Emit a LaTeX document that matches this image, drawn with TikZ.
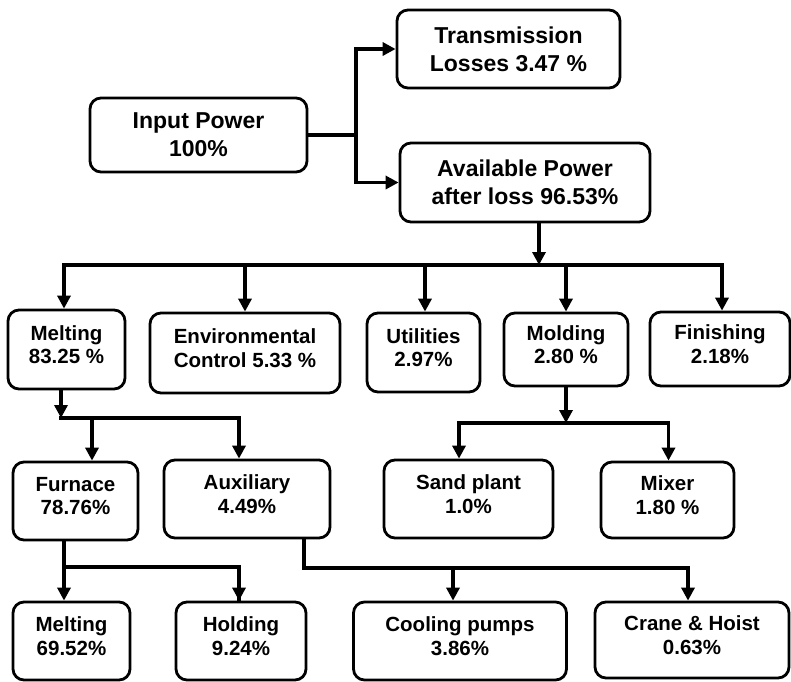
\documentclass[tikz,border=0pt]{standalone}
\usepackage{fontspec}
\setmainfont{Liberation Sans}
\usetikzlibrary{arrows.meta}
\newcommand\bigtxt{\fontsize{23}{28}\selectfont\bfseries}
\newcommand\smtxt{\fontsize{20.5}{23.5}\selectfont\bfseries}
\newcommand\lft{\rule[-10pt]{0pt}{10pt}}
\tikzset{
  box/.style={draw, line width=2.8pt, rounded corners=11pt, align=center, inner sep=0pt},
  bx/.style n args={2}{box, minimum width=#1pt, minimum height=#2pt},
  top/.style={font=\bigtxt},
  low/.style={font=\smtxt},
  conn/.style={line width=3.5pt},
  bus/.style={conn, line cap=rect},
  arr/.style={conn, -{Triangle[length=13pt,width=13pt]}},
}
\begin{document}
\begin{tikzpicture}[x=1pt,y=-1pt]
\useasboundingbox (0,0) rectangle (791,681);
% level 0/1
\node[bx={217}{74}, top] (input) at (198.5,135) {Input Power\\100\%};
\node[bx={223}{78}, top] (trans) at (508.5,49) {Transmission\\Losses 3.47 \%};
\node[bx={250}{79}, top] (avail) at (525,182.5) {Available Power\\after loss 96.53\%};
% level 2
\node[bx={117}{79}, low] (melt) at (66.5,349.5) {Melting\\83.25 \%\lft};
\node[bx={190}{80}, low] (env) at (245,353) {Environmental\\Control 5.33 \%\lft};
\node[bx={113}{79}, low] (util) at (423.5,352.5) {Utilities\\2.97\%\lft};
\node[bx={124}{73}, low] (mold) at (566,349.5) {Molding\\2.80 \%\lft};
\node[bx={140}{74}, low] (fin) at (720,349) {Finishing\\2.18\%\lft};
% level 3
\node[bx={125}{78}, low] (furn) at (75.5,501) {Furnace\\78.76\%\lft};
\node[bx={166}{78}, low] (aux) at (247,499) {Auxiliary\\4.49\%\lft};
\node[bx={169}{78}, low] (sand) at (468.5,499) {Sand plant\\1.0\%\lft};
\node[bx={133}{76}, low] (mixer) at (667.5,500) {Mixer\\1.80 \%\lft};
% level 4
\node[bx={117}{78}, low] (melt2) at (71.5,641) {Melting\\69.52\%\lft};
\node[bx={130}{78}, low] (hold) at (241,641) {Holding\\9.24\%\lft};
\node[bx={213}{78}, low] (cool) at (460,641) {Cooling pumps\\3.86\%\lft};
\node[bx={194}{76}, low] (crane) at (692,640) {Crane \& Hoist\\0.63\%\lft};

% input -> transmission / available
\coordinate (j1) at (356,135);
\draw[conn] (input.east) -- (j1);
\draw[arr] (j1) |- (trans.west);
\draw[arr] (j1) |- (avail.west);

% available -> level 2
\coordinate (b1) at (0,265);
\draw[arr] ([xshift=14pt]avail.south) -- ([xshift=14pt]avail.south |- b1);
\draw[bus] ([xshift=-2.5pt]melt.north |- b1) -- ([xshift=2pt]fin.north |- b1);
\foreach \n/\dx in {melt/-2.5, env/0, util/1.5, mold/0, fin/2}
  \draw[arr] ([xshift=\dx pt]\n.north |- b1) -- ([xshift=\dx pt]\n.north);

% melting -> furnace / auxiliary
\coordinate (b2) at (0,418);
\draw[arr] ([xshift=-5.5pt]melt.south) -- ([xshift=-5.5pt]melt.south |- b2);
\draw[bus] ([xshift=-5.5pt]melt.south |- b2) -- ([xshift=-8pt]aux.north |- b2);
\draw[arr] ([xshift=16.5pt]furn.north |- b2) -- ([xshift=16.5pt]furn.north);
\draw[arr] ([xshift=-8pt]aux.north |- b2) -- ([xshift=-8pt]aux.north);

% molding -> sand plant / mixer
\coordinate (b3) at (0,423);
\draw[arr] (mold.south) -- (mold.south |- b3);
\draw[bus] ([xshift=-9.5pt]sand.north |- b3) -- ([xshift=1pt]mixer.north |- b3);
\draw[arr] ([xshift=-9.5pt]sand.north |- b3) -- ([xshift=-9.5pt]sand.north);
\draw[arr] ([xshift=1pt]mixer.north |- b3) -- ([xshift=1pt]mixer.north);

% furnace -> melting / holding
\coordinate (b4) at (0,567);
\draw[arr] ([xshift=-11.5pt]furn.south) -- ([xshift=-7.5pt]melt2.north);
\draw[conn] ([xshift=-11.5pt]furn.south |- b4) -| ([xshift=-2pt]hold.north);
\draw[arr] ([xshift=-2pt]hold.north |- b4) -- ([xshift=-2pt]hold.north);

% auxiliary -> cooling pumps / crane
\coordinate (b5) at (0,568);
\draw[bus] ([xshift=57pt]aux.south) |- ([xshift=-4pt]crane.north |- b5);
\draw[arr] ([xshift=-7pt]cool.north |- b5) -- ([xshift=-7pt]cool.north);
\draw[arr] ([xshift=-4pt]crane.north |- b5) -- ([xshift=-4pt]crane.north);
\end{tikzpicture}
\end{document}
